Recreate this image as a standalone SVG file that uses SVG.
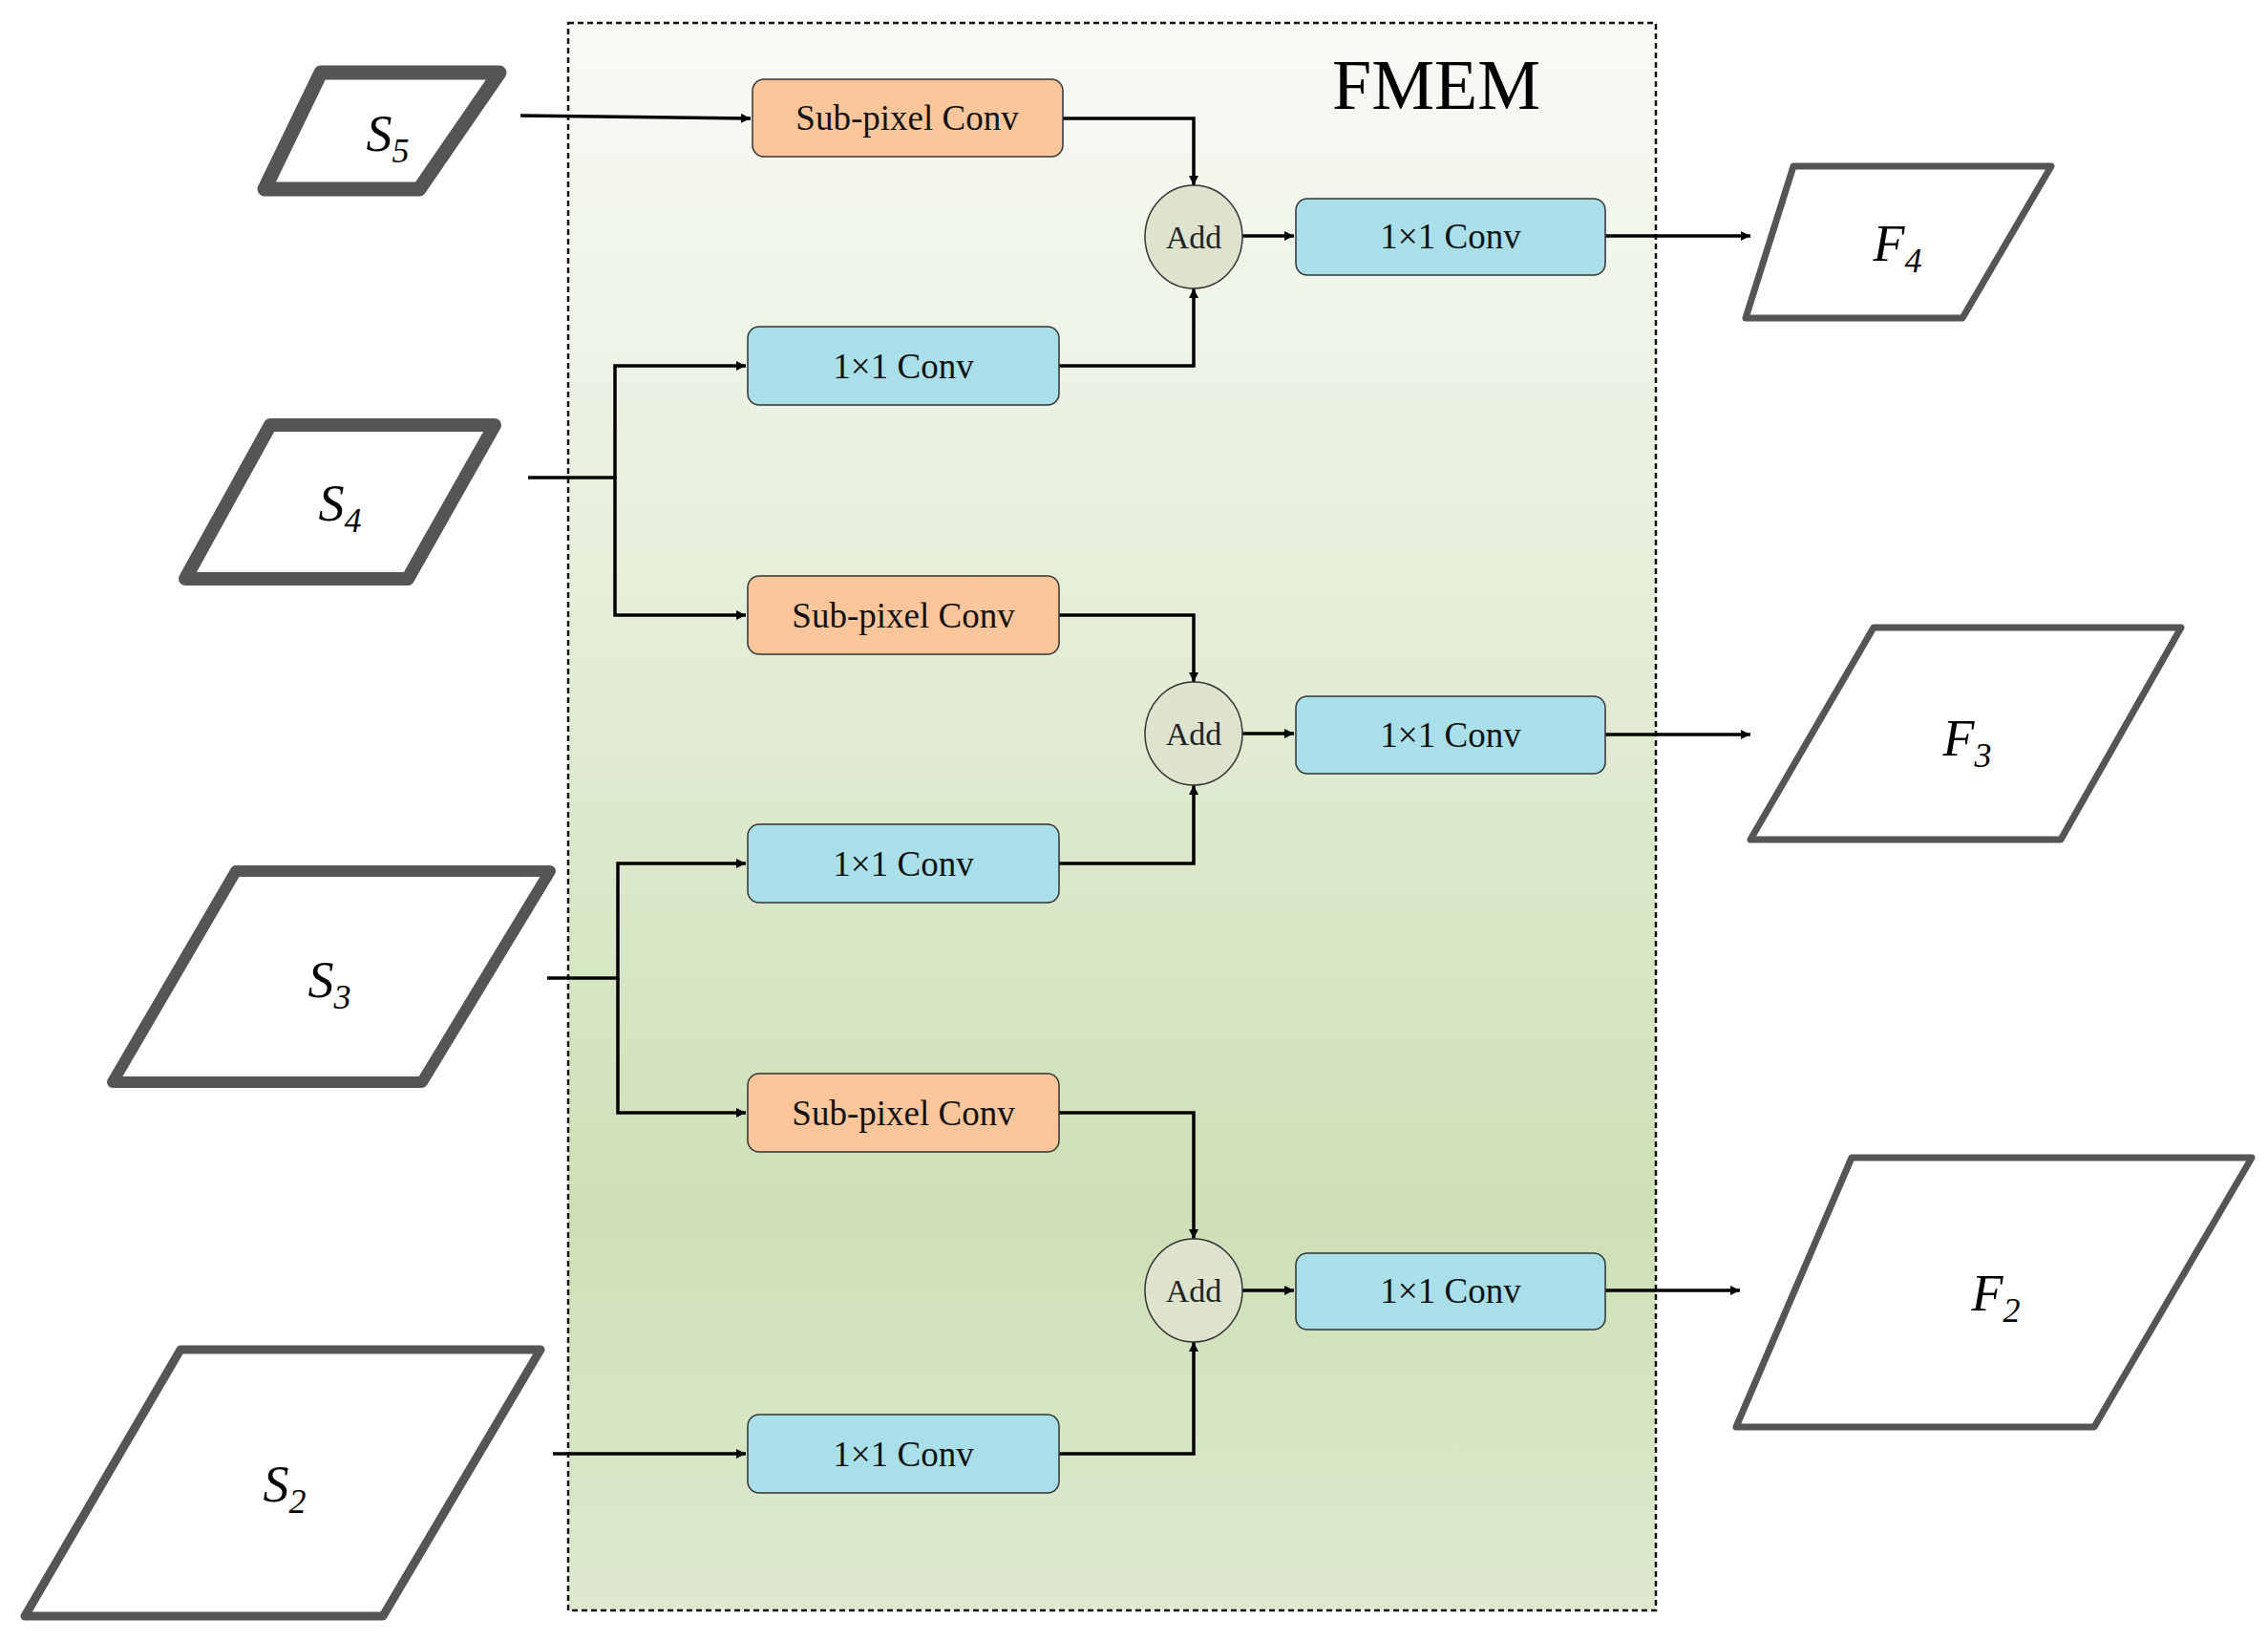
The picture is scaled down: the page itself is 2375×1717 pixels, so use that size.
<svg xmlns="http://www.w3.org/2000/svg" width="2375" height="1717" viewBox="0 0 2375 1717">
<style>
.sp{fill:#fcc59a;stroke:#333;stroke-width:1.5}
.cv{fill:#a8dfe9;stroke:#333;stroke-width:1.5}
.ad{fill:#dde3cc;stroke:#333;stroke-width:1.5}
.bt{font-family:"Liberation Serif",serif;font-size:37px;fill:#111;text-anchor:middle}
.at{font-family:"Liberation Serif",serif;font-size:34px;fill:#222;text-anchor:middle}
.pl{fill:#fff;stroke:#555;stroke-linejoin:round}
.lb{font-family:"Liberation Serif",serif;font-style:italic;font-size:54px;fill:#000;text-anchor:middle}
.ln{fill:none;stroke:#000;stroke-width:3.5}
</style>
<defs>
<linearGradient id="g" x1="0" y1="0" x2="0" y2="1">
<stop offset="0" stop-color="#f8faf5"/>
<stop offset="0.4" stop-color="#e3edd6"/>
<stop offset="0.75" stop-color="#cde0b6"/>
<stop offset="1" stop-color="#dee9cf"/>
</linearGradient>
<marker id="ar" markerWidth="10" markerHeight="10" refX="10" refY="5" orient="auto" markerUnits="userSpaceOnUse" viewBox="0 0 10 10">
<path d="M0,0 L10,5 L0,10 z" fill="#000"/>
</marker>
</defs>
<g id="frame">
<rect x="595" y="24" width="1139" height="1662" fill="url(#g)" stroke="#111" stroke-width="2.5" stroke-dasharray="6,4"/>
<text x="1504" y="114" font-family="Liberation Serif,serif" font-size="74" text-anchor="middle">FMEM</text>
</g>
<g id="inputs">
<g id="S5"><polygon class="pl" points="336,76 523,76 439,198 277,198" stroke-width="15"/><text class="lb" x="406" y="158">S<tspan font-size="36" dy="12">5</tspan></text></g>
<g id="S4"><polygon class="pl" points="283,445 518,445 427,606 194,606" stroke-width="14"/><text class="lb" x="356" y="545">S<tspan font-size="36" dy="12">4</tspan></text></g>
<g id="S3"><polygon class="pl" points="247,912 576,912 442,1133 118,1133" stroke-width="12"/><text class="lb" x="345" y="1044">S<tspan font-size="36" dy="12">3</tspan></text></g>
<g id="S2"><polygon class="pl" points="189,1413 566,1413 401,1692 26,1692" stroke-width="9"/><text class="lb" x="298" y="1572">S<tspan font-size="36" dy="12">2</tspan></text></g>
</g>
<g id="outputs">
<g id="F4"><polygon class="pl" points="1878,174 2148,174 2055,333 1828,333" stroke-width="7"/><text class="lb" x="1987" y="273">F<tspan font-size="36" dy="12">4</tspan></text></g>
<g id="F3"><polygon class="pl" points="1962,657 2284,657 2158,879 1833,879" stroke-width="7"/><text class="lb" x="2060" y="791">F<tspan font-size="36" dy="12">3</tspan></text></g>
<g id="F2"><polygon class="pl" points="1939,1212 2358,1212 2193,1494 1818,1494" stroke-width="7"/><text class="lb" x="2090" y="1372">F<tspan font-size="36" dy="12">2</tspan></text></g>
</g>
<g id="connectors">
<path class="ln" d="M545,121 L786,124" marker-end="url(#ar)"/>
<path class="ln" d="M1113,124 H1250 V194" marker-end="url(#ar)"/>
<path class="ln" d="M1109,383 H1250 V302" marker-end="url(#ar)"/>
<path class="ln" d="M553,500 H644 V383 H781" marker-end="url(#ar)"/>
<path class="ln" d="M644,500 V644 H781" marker-end="url(#ar)"/>
<path class="ln" d="M1109,644 H1250 V714" marker-end="url(#ar)"/>
<path class="ln" d="M1109,904 H1250 V822" marker-end="url(#ar)"/>
<path class="ln" d="M573,1024 H647 V904 H781" marker-end="url(#ar)"/>
<path class="ln" d="M647,1024 V1165 H781" marker-end="url(#ar)"/>
<path class="ln" d="M1109,1165 H1250 V1297" marker-end="url(#ar)"/>
<path class="ln" d="M1109,1522 H1250 V1405" marker-end="url(#ar)"/>
<path class="ln" d="M579,1522 H781" marker-end="url(#ar)"/>
<path class="ln" d="M1301,247 H1355" marker-end="url(#ar)"/>
<path class="ln" d="M1301,768 H1355" marker-end="url(#ar)"/>
<path class="ln" d="M1301,1351 H1355" marker-end="url(#ar)"/>
<path class="ln" d="M1681,247 H1833" marker-end="url(#ar)"/>
<path class="ln" d="M1681,769 H1833" marker-end="url(#ar)"/>
<path class="ln" d="M1681,1351 H1822" marker-end="url(#ar)"/>
</g>
<g id="sp1"><rect class="sp" x="788" y="83" width="325" height="81" rx="12"/><text class="bt" x="950" y="136">Sub-pixel Conv</text></g>
<g id="c1"><rect class="cv" x="783" y="342" width="326" height="82" rx="12"/><text class="bt" x="946" y="396">1×1 Conv</text></g>
<g id="sp2"><rect class="sp" x="783" y="603" width="326" height="82" rx="12"/><text class="bt" x="946" y="657">Sub-pixel Conv</text></g>
<g id="c2"><rect class="cv" x="783" y="863" width="326" height="82" rx="12"/><text class="bt" x="946" y="917">1×1 Conv</text></g>
<g id="sp3"><rect class="sp" x="783" y="1124" width="326" height="82" rx="12"/><text class="bt" x="946" y="1178">Sub-pixel Conv</text></g>
<g id="c3"><rect class="cv" x="783" y="1481" width="326" height="82" rx="12"/><text class="bt" x="946" y="1535">1×1 Conv</text></g>
<g id="r1"><rect class="cv" x="1357" y="208" width="324" height="80" rx="12"/><text class="bt" x="1519" y="260">1×1 Conv</text></g>
<g id="r2"><rect class="cv" x="1357" y="729" width="324" height="81" rx="12"/><text class="bt" x="1519" y="782">1×1 Conv</text></g>
<g id="r3"><rect class="cv" x="1357" y="1312" width="324" height="80" rx="12"/><text class="bt" x="1519" y="1364">1×1 Conv</text></g>
<g id="add1"><ellipse class="ad" cx="1250" cy="248" rx="51" ry="54"/><text class="at" x="1250" y="260">Add</text></g>
<g id="add2"><ellipse class="ad" cx="1250" cy="768" rx="51" ry="54"/><text class="at" x="1250" y="780">Add</text></g>
<g id="add3"><ellipse class="ad" cx="1250" cy="1351" rx="51" ry="54"/><text class="at" x="1250" y="1363">Add</text></g>
</svg>
